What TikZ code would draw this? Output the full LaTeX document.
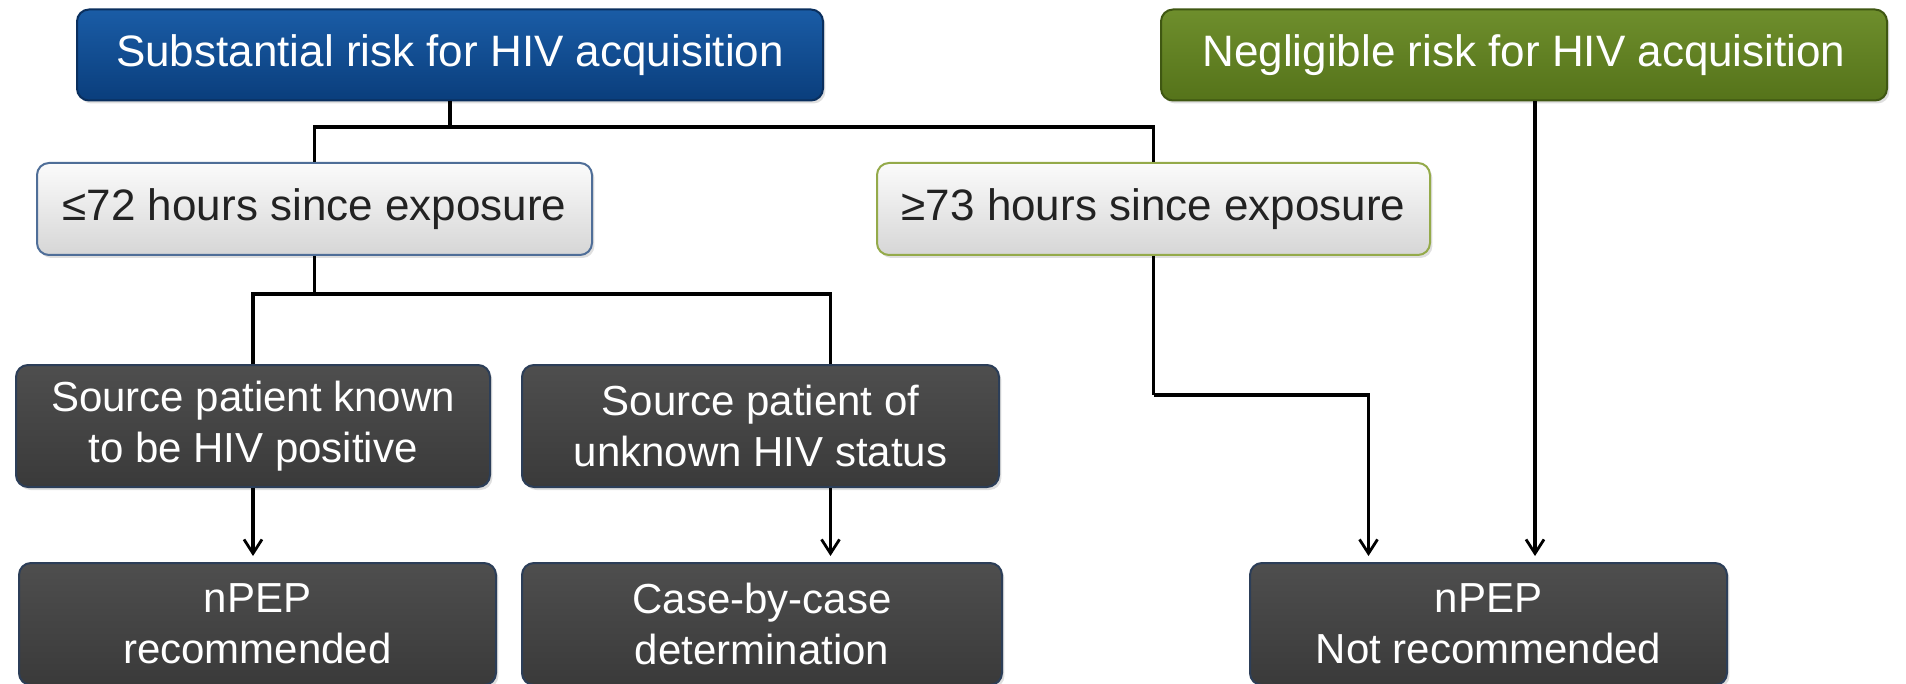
\documentclass[tikz,border=0pt]{standalone}
\usepackage{fontspec}
\setmainfont{Liberation Sans}
\usetikzlibrary{arrows.meta,shadows,calc}
\definecolor{subtop}{HTML}{1A5CA6}
\definecolor{subbot}{HTML}{0A3E7C}
\definecolor{subedge}{HTML}{0A2F5E}
\definecolor{negtop}{HTML}{6E8E2C}
\definecolor{negbot}{HTML}{55731A}
\definecolor{negedge}{HTML}{3F5712}
\definecolor{lighttop}{HTML}{FBFBFB}
\definecolor{lightbot}{HTML}{D6D6D6}
\definecolor{bluerim}{HTML}{4F6E98}
\definecolor{greenrim}{HTML}{94AA4A}
\definecolor{darktop}{HTML}{4E4E4E}
\definecolor{darkbot}{HTML}{3A3A3A}
\definecolor{darkrim}{HTML}{2C3E58}
\definecolor{darktext}{HTML}{222222}
\begin{document}
\begin{tikzpicture}[x=0.5pt,y=-0.5pt,
  box/.style={rounded corners=6pt, align=center, inner sep=0pt, line width=1pt,
    font=\fontsize{21}{25.5}\selectfont,
    drop shadow={shadow xshift=1.2pt, shadow yshift=-1.5pt, opacity=0.25}},
  riskbox/.style={box, minimum height=45.5pt, text=white, font=\fontsize{22}{26}\selectfont},
  subbox/.style={riskbox, draw=subedge, top color=subtop, bottom color=subbot},
  negbox/.style={riskbox, draw=negedge, top color=negtop, bottom color=negbot},
  timebox/.style={box, minimum height=46pt, text=darktext, top color=lighttop, bottom color=lightbot, font=\fontsize{22}{26}\selectfont},
  darkbox/.style={box, draw=darkrim, top color=darktop, bottom color=darkbot, text=white, minimum height=61pt},
  link/.style={line width=1.7pt, draw=black},
  arr/.style={link, -{Straight Barb[length=7pt,width=9pt,line width=1.4pt]}, shorten >=3pt}
]
\useasboundingbox (0,0) rectangle (1906,684);
\clip (0,0) rectangle (1906,684);

% nodes
\node[subbox, minimum width=373pt] (sub) at (450,55) {Substantial risk for HIV acquisition};
\node[negbox, minimum width=363pt] (neg) at (1524,55) {Negligible risk for HIV acquisition};
\node[timebox, draw=bluerim, minimum width=277.5pt] (le72) at (314.5,209) {≤72 hours since exposure};
\node[timebox, draw=greenrim, minimum width=276.5pt] (ge73) at (1153.5,209) {≥73 hours since exposure};
\node[darkbox, minimum width=237pt] (known) at (253,426) {Source patient known\\to be HIV positive};
\node[darkbox, minimum width=238.5pt] (unknown) at (760.5,426) {Source patient of\\unknown HIV status};
\node[darkbox, minimum width=238.5pt] (nrec) at (257.5,624) {nPEP\\recommended};
\node[darkbox, minimum width=240pt] (case) at (762,624) {Case-by-case\\determination};
\node[darkbox, minimum width=238.5pt] (notrec) at (1488.5,624) {nPEP\\Not recommended};

% junction coordinates
\coordinate (j1) at (450,127);
\coordinate (j2) at (314.5,294);
\coordinate (ukin) at ([xshift=35pt]unknown.north);
\coordinate (ukout) at ([xshift=35pt]unknown.south);
\coordinate (j3) at (1153.5,395);
\coordinate (nrin1) at ([xshift=-60pt]notrec.north);
\coordinate (nrin2) at ([xshift=23pt]notrec.north);
\coordinate (negout) at ([xshift=5.5pt]neg.south);

% connectors
\draw[link] (sub.south) -- (j1);
\draw[link] (j1) -| (le72.north);
\draw[link] (j1) -| (ge73.north);
\draw[link] (le72.south) -- (j2);
\draw[link] (j2) -| (known.north);
\draw[link] (j2) -| (ukin);
\draw[arr] (known.south) -- (known.south |- nrec.north);
\draw[arr] (ukout) -- (ukout |- case.north);
\draw[link] (ge73.south) -- (j3);
\draw[arr] (j3) -| (nrin1);
\draw[arr] (negout) -- (negout |- notrec.north);
\end{tikzpicture}
\end{document}
